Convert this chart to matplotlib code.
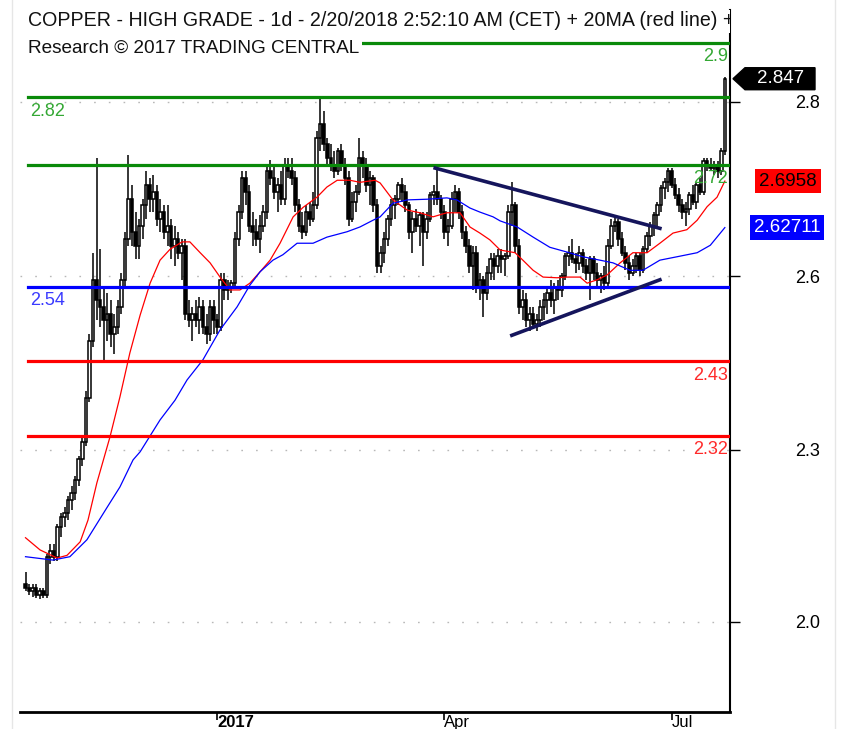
import numpy as np
import matplotlib
matplotlib.use('Agg')
import matplotlib.pyplot as plt
from matplotlib.patches import Polygon
from matplotlib.lines import Line2D
from matplotlib.transforms import blended_transform_factory

plt.rcParams['font.family'] = ['Liberation Sans', 'DejaVu Sans']

# Daily candles, one per trading day
opens = [2.100, 2.095, 2.090, 2.095, 2.085, 2.090, 2.085, 2.140, 2.150, 2.140,
         2.185, 2.200, 2.205, 2.225, 2.235, 2.255, 2.285, 2.310, 2.375, 2.460,
         2.550, 2.520, 2.510, 2.490, 2.500, 2.470, 2.480, 2.510, 2.550, 2.610,
         2.670, 2.620, 2.600, 2.630, 2.660, 2.690, 2.670, 2.680, 2.640, 2.650,
         2.620, 2.630, 2.600, 2.610, 2.590, 2.600, 2.500, 2.490, 2.500, 2.490,
         2.510, 2.480, 2.470, 2.510, 2.490, 2.480, 2.550, 2.535, 2.540, 2.545,
         2.610, 2.650, 2.700, 2.680, 2.630, 2.620, 2.610, 2.630, 2.650, 2.710,
         2.700, 2.680, 2.690, 2.670, 2.720, 2.710, 2.700, 2.660, 2.630, 2.620,
         2.650, 2.640, 2.660, 2.760, 2.780, 2.750, 2.730, 2.720, 2.710, 2.740,
         2.720, 2.700, 2.640, 2.665, 2.680, 2.730, 2.720, 2.690, 2.700, 2.660,
         2.570, 2.590, 2.610, 2.640, 2.660, 2.670, 2.690, 2.680, 2.660, 2.620,
         2.640, 2.630, 2.645, 2.620, 2.640, 2.675, 2.680, 2.670, 2.650, 2.620,
         2.630, 2.670, 2.680, 2.650, 2.620, 2.600, 2.570, 2.590, 2.540, 2.550,
         2.530, 2.560, 2.580, 2.570, 2.585, 2.580, 2.585, 2.650, 2.660, 2.600,
         2.510, 2.520, 2.490, 2.500, 2.485, 2.490, 2.510, 2.520, 2.530, 2.520,
         2.540, 2.535, 2.555, 2.585, 2.590, 2.580, 2.575, 2.590, 2.570, 2.560,
         2.580, 2.560, 2.550, 2.555, 2.545, 2.600, 2.630, 2.635, 2.610, 2.590,
         2.575, 2.560, 2.570, 2.585, 2.565, 2.595, 2.615, 2.630, 2.645, 2.660,
         2.685, 2.695, 2.710, 2.690, 2.675, 2.660, 2.650, 2.655, 2.675, 2.665,
         2.690, 2.680, 2.725, 2.720, 2.715, 2.720, 2.710, 2.740]
highs = [2.118, 2.100, 2.100, 2.100, 2.095, 2.095, 2.145, 2.160, 2.160, 2.190,
         2.205, 2.215, 2.230, 2.245, 2.260, 2.290, 2.320, 2.385, 2.470, 2.590,
         2.730, 2.595, 2.540, 2.530, 2.520, 2.500, 2.520, 2.560, 2.620, 2.735,
         2.690, 2.650, 2.640, 2.670, 2.710, 2.700, 2.705, 2.690, 2.670, 2.660,
         2.660, 2.640, 2.630, 2.620, 2.610, 2.610, 2.520, 2.510, 2.520, 2.525,
         2.520, 2.500, 2.520, 2.520, 2.500, 2.560, 2.560, 2.550, 2.550, 2.620,
         2.660, 2.710, 2.710, 2.690, 2.650, 2.640, 2.645, 2.660, 2.720, 2.727,
         2.720, 2.700, 2.710, 2.730, 2.730, 2.730, 2.710, 2.670, 2.650, 2.660,
         2.665, 2.680, 2.770, 2.820, 2.800, 2.760, 2.750, 2.740, 2.745, 2.750,
         2.730, 2.710, 2.680, 2.690, 2.760, 2.740, 2.730, 2.710, 2.705, 2.670,
         2.600, 2.620, 2.645, 2.670, 2.675, 2.695, 2.700, 2.690, 2.665, 2.650,
         2.655, 2.650, 2.650, 2.650, 2.680, 2.690, 2.715, 2.675, 2.660, 2.640,
         2.680, 2.690, 2.685, 2.660, 2.630, 2.610, 2.600, 2.600, 2.560, 2.555,
         2.570, 2.590, 2.590, 2.595, 2.595, 2.590, 2.660, 2.695, 2.665, 2.610,
         2.535, 2.530, 2.510, 2.510, 2.500, 2.520, 2.530, 2.540, 2.550, 2.545,
         2.550, 2.560, 2.590, 2.600, 2.610, 2.590, 2.600, 2.595, 2.580, 2.585,
         2.585, 2.575, 2.560, 2.570, 2.610, 2.640, 2.645, 2.640, 2.620, 2.600,
         2.585, 2.580, 2.590, 2.590, 2.600, 2.620, 2.635, 2.650, 2.665, 2.690,
         2.700, 2.715, 2.715, 2.700, 2.685, 2.670, 2.665, 2.680, 2.690, 2.695,
         2.700, 2.730, 2.730, 2.730, 2.725, 2.725, 2.745, 2.850]
lows = [2.090, 2.085, 2.082, 2.080, 2.078, 2.080, 2.080, 2.130, 2.135, 2.135,
        2.170, 2.185, 2.195, 2.210, 2.225, 2.245, 2.275, 2.305, 2.370, 2.450,
        2.490, 2.480, 2.430, 2.460, 2.450, 2.440, 2.470, 2.500, 2.540, 2.600,
        2.600, 2.580, 2.580, 2.610, 2.640, 2.650, 2.650, 2.630, 2.620, 2.610,
        2.600, 2.580, 2.570, 2.580, 2.550, 2.490, 2.480, 2.460, 2.480, 2.470,
        2.470, 2.455, 2.460, 2.470, 2.470, 2.475, 2.520, 2.520, 2.530, 2.540,
        2.600, 2.640, 2.660, 2.620, 2.600, 2.600, 2.590, 2.620, 2.640, 2.690,
        2.670, 2.650, 2.660, 2.660, 2.700, 2.690, 2.650, 2.620, 2.610, 2.615,
        2.630, 2.635, 2.655, 2.740, 2.740, 2.720, 2.710, 2.700, 2.705, 2.710,
        2.690, 2.630, 2.635, 2.650, 2.675, 2.700, 2.680, 2.660, 2.650, 2.560,
        2.560, 2.575, 2.600, 2.630, 2.640, 2.660, 2.665, 2.650, 2.610, 2.590,
        2.620, 2.600, 2.570, 2.610, 2.635, 2.660, 2.660, 2.640, 2.610, 2.600,
        2.625, 2.650, 2.640, 2.610, 2.590, 2.560, 2.535, 2.530, 2.520, 2.495,
        2.520, 2.550, 2.550, 2.560, 2.560, 2.555, 2.580, 2.630, 2.590, 2.500,
        2.490, 2.480, 2.475, 2.480, 2.475, 2.480, 2.490, 2.500, 2.510, 2.500,
        2.520, 2.525, 2.550, 2.570, 2.575, 2.560, 2.565, 2.560, 2.550, 2.520,
        2.550, 2.540, 2.530, 2.535, 2.540, 2.595, 2.620, 2.600, 2.585, 2.565,
        2.550, 2.555, 2.560, 2.555, 2.560, 2.590, 2.600, 2.615, 2.630, 2.650,
        2.670, 2.680, 2.685, 2.670, 2.650, 2.640, 2.630, 2.645, 2.660, 2.655,
        2.675, 2.675, 2.710, 2.710, 2.705, 2.700, 2.705, 2.735]
closes = [2.095, 2.090, 2.095, 2.085, 2.090, 2.085, 2.140, 2.150, 2.140, 2.185,
          2.200, 2.205, 2.225, 2.235, 2.255, 2.285, 2.310, 2.375, 2.460, 2.550,
          2.520, 2.510, 2.490, 2.500, 2.470, 2.480, 2.510, 2.550, 2.610, 2.670,
          2.620, 2.600, 2.630, 2.660, 2.690, 2.670, 2.680, 2.640, 2.650, 2.620,
          2.630, 2.600, 2.610, 2.590, 2.600, 2.500, 2.490, 2.500, 2.490, 2.510,
          2.480, 2.470, 2.510, 2.490, 2.480, 2.550, 2.535, 2.540, 2.545, 2.610,
          2.650, 2.700, 2.680, 2.630, 2.620, 2.610, 2.630, 2.650, 2.710, 2.700,
          2.680, 2.690, 2.670, 2.720, 2.710, 2.700, 2.660, 2.630, 2.620, 2.650,
          2.640, 2.660, 2.760, 2.780, 2.750, 2.730, 2.720, 2.710, 2.740, 2.720,
          2.700, 2.640, 2.665, 2.680, 2.730, 2.720, 2.690, 2.700, 2.660, 2.570,
          2.590, 2.610, 2.640, 2.660, 2.670, 2.690, 2.680, 2.660, 2.620, 2.640,
          2.630, 2.645, 2.620, 2.640, 2.675, 2.680, 2.670, 2.650, 2.620, 2.630,
          2.670, 2.680, 2.650, 2.620, 2.600, 2.570, 2.590, 2.540, 2.550, 2.530,
          2.560, 2.580, 2.570, 2.585, 2.580, 2.585, 2.650, 2.660, 2.600, 2.510,
          2.520, 2.490, 2.500, 2.485, 2.490, 2.510, 2.520, 2.530, 2.520, 2.540,
          2.535, 2.555, 2.585, 2.590, 2.580, 2.575, 2.590, 2.570, 2.560, 2.580,
          2.560, 2.550, 2.555, 2.545, 2.600, 2.630, 2.635, 2.610, 2.590, 2.575,
          2.560, 2.570, 2.585, 2.565, 2.595, 2.615, 2.630, 2.645, 2.660, 2.685,
          2.695, 2.710, 2.690, 2.675, 2.660, 2.650, 2.655, 2.675, 2.665, 2.690,
          2.680, 2.725, 2.720, 2.715, 2.720, 2.710, 2.740, 2.847]

# moving averages as drawn on the chart (day index, value)
ma20_days = [0, 4.1, 8.9, 11.7, 15.4, 17.6, 20.1, 23.8, 26.6, 29.4, 32.3, 35.1, 37.9,
             40.7, 44.1, 46.3, 49.2, 52, 54.8, 57.6, 60.4, 63.2, 66.1, 68.9, 71.7,
             75.4, 78.2, 82.1, 84.9, 87.8, 91.4, 94.2, 98.5, 99.9, 103.5, 107.5,
             111.1, 114.8, 118.7, 122.4, 125.2, 128, 130.8, 133.7, 137.9, 140.1,
             143, 145.8, 149.7, 152.5, 156.2, 158.2, 161, 163.8, 167.5, 171.1,
             175.1, 178.7, 182.4, 186.3, 189.2, 192, 194.8, 197]
ma20_vals = [2.169, 2.151, 2.139, 2.143, 2.163, 2.195, 2.25, 2.318, 2.377, 2.442,
             2.498, 2.545, 2.579, 2.595, 2.606, 2.606, 2.59, 2.575, 2.554, 2.535,
             2.535, 2.545, 2.562, 2.579, 2.604, 2.643, 2.657, 2.672, 2.687, 2.697,
             2.697, 2.694, 2.697, 2.693, 2.668, 2.653, 2.649, 2.643, 2.649, 2.649,
             2.628, 2.619, 2.609, 2.594, 2.590, 2.579, 2.564, 2.554, 2.553, 2.554,
             2.554, 2.545, 2.55, 2.557, 2.575, 2.59, 2.59, 2.604, 2.619, 2.624,
             2.638, 2.658, 2.672, 2.6958]
ma50_days = [0, 7.7, 12.5, 17.3, 23, 26.6, 30.3, 32.3, 37.9, 42.1, 45.5, 50, 54.8,
             59.6, 63.2, 66.1, 69.7, 72.5, 76.5, 81, 84.9, 90.6, 94.2, 97.9, 99.9,
             103.5, 107.5, 113.1, 118.7, 121.5, 125.2, 128, 131.7, 133.7, 138.5,
             143, 147.7, 152.5, 157, 161.8, 165.5, 170.3, 173.9, 178.7, 183.5,
             189.2, 192.9, 197]
ma50_vals = [2.141, 2.136, 2.141, 2.166, 2.214, 2.244, 2.284, 2.296, 2.343, 2.372,
             2.402, 2.432, 2.476, 2.51, 2.542, 2.562, 2.579, 2.587, 2.604, 2.604,
             2.613, 2.621, 2.628, 2.638, 2.643, 2.663, 2.668, 2.669, 2.671, 2.668,
             2.656, 2.65, 2.643, 2.637, 2.628, 2.613, 2.598, 2.591, 2.584, 2.579,
             2.575, 2.564, 2.564, 2.579, 2.584, 2.59, 2.601, 2.62711]

# horizontal support / resistance levels
levels = [2.9, 2.82, 2.72, 2.54, 2.43, 2.32]
level_colors = ['#0a8a0a', '#0a8a0a', '#0a8a0a', '#0000ff', '#ff0000', '#ff0000']
label_colors = ['#34a834', '#34a834', '#34a834', '#3a3aff', '#ff2a2a', '#ff2a2a']
label_sides = ['right', 'left', 'right', 'left', 'right', 'right']

# triangle trend lines
tri_upper_days = [115.4, 178.7]
tri_upper_vals = [2.715, 2.626]
tri_lower_days = [137.0, 178.7]
tri_lower_vals = [2.468, 2.550]

# axes ticks
ytick_vals = [2.045, 2.299, 2.555, 2.813]
ytick_labels = ['2.0', '2.3', '2.6', '2.8']
xtick_days = [54, 118, 182]
xtick_labels = ['2017', 'Apr', 'Jul']

last_price = 2.847
ma20_last = 2.6958
ma50_last = 2.62711

# header as far as it is visible in the chart
title1 = 'COPPER - HIGH GRADE - 1d - 2/20/2018 2:52:10 AM (CET) + 20MA (red line) +'
title2 = 'Research \u00a9 2017 TRADING CENTRAL'

W, H = 842, 729
fig = plt.figure(figsize=(W / 100, H / 100), dpi=100)
ax = fig.add_axes([20 / W, 17 / H, 710 / W, 702 / H])
ax.set_xlim(-1.55, 198.45)
ax.set_ylim(1.9116, 2.9485)

# candles
o = np.array(opens)
h = np.array(highs)
l = np.array(lows)
c = np.array(closes)
idx = np.arange(len(c))
up = c >= o
ax.vlines(idx, l, h, color='black', lw=1.1, zorder=2)
body_bot = np.minimum(o, c)
body_h = np.maximum(np.abs(c - o), 0.003)
ax.bar(idx[up], body_h[up], bottom=body_bot[up], width=0.72, color='white',
       edgecolor='black', lw=1.1, zorder=3)
ax.bar(idx[~up], body_h[~up], bottom=body_bot[~up], width=0.72, color='black',
       edgecolor='black', lw=1.1, zorder=3)

# moving averages
ax.plot(ma20_days, ma20_vals, color='#ff0000', lw=0.9, zorder=4)
ax.plot(ma50_days, ma50_vals, color='#0000ff', lw=0.9, zorder=4)

# level lines + labels
tr = blended_transform_factory(ax.transAxes, ax.transData)
for lev, col, lcol, side in zip(levels, level_colors, label_colors, label_sides):
    ax.axhline(lev, xmin=8 / 710, xmax=1, color=col, lw=2.3, zorder=5)
    if side == 'left':
        ax.annotate(f'{lev:g}', xy=(10 / 710, lev), xycoords=tr, xytext=(0, -4),
                    textcoords='offset points', ha='left', va='top',
                    color=lcol, fontsize=13, zorder=7)
    else:
        ax.annotate(f'{lev:g}', xy=(1, lev), xycoords=tr, xytext=(-1.5, -4),
                    textcoords='offset points', ha='right', va='top',
                    color=lcol, fontsize=13, zorder=7)

# triangle
ax.plot(tri_upper_days, tri_upper_vals, color='#15155c', lw=2.6, zorder=6)
ax.plot(tri_lower_days, tri_lower_vals, color='#15155c', lw=2.6, zorder=6)

# title text with white background
ax.text(8 / 710, 0.985, title1, transform=ax.transAxes, ha='left', va='center',
        fontsize=14.1, color='#111111', clip_on=True, zorder=8,
        bbox=dict(boxstyle='square,pad=0.15', fc='white', ec='none'))
ax.text(8 / 710, 0.946, title2, transform=ax.transAxes, ha='left', va='center',
        fontsize=13.7, color='#111111', clip_on=True, zorder=8,
        bbox=dict(boxstyle='square,pad=0.15', fc='white', ec='none'))

# grid and axes
ax.set_yticks(ytick_vals)
ax.set_yticklabels(ytick_labels)
ax.yaxis.tick_right()
ax.tick_params(axis='y', length=7, width=1, direction='out', pad=58, labelsize=13,
               colors='black')
for lab in ax.get_yticklabels():
    lab.set_horizontalalignment('right')
ax.grid(axis='y', color='#b8b8b8', lw=1.0, linestyle=(0, (1.2, 9.4)))
ax.set_xticks(xtick_days)
ax.set_xticklabels(xtick_labels)
ax.tick_params(axis='x', length=6, width=1.2, direction='out', pad=-3.5, labelsize=12)
for lab in ax.get_xticklabels():
    lab.set_horizontalalignment('left')
ax.get_xticklabels()[0].set_fontweight('bold')
ax.spines['top'].set_visible(False)
ax.spines['left'].set_visible(False)
ax.spines['right'].set_linewidth(1.5)
ax.spines['bottom'].set_linewidth(2)

# faint outer frame
fig.add_artist(Line2D([12 / W, 12 / W], [0, 1], color='#e6e6e6', lw=1))
fig.add_artist(Line2D([835 / W, 835 / W], [0, 1], color='#e6e6e6', lw=1))

# price tags on the right
to_fig = fig.transFigure.inverted()
xr, yp = ax.transData.transform((198.45, last_price))
tag = [(xr + 3, yp), (xr + 15, yp + 11), (xr + 85, yp + 11), (xr + 85, yp - 11),
       (xr + 15, yp - 11)]
fig.add_artist(Polygon(to_fig.transform(tag), closed=True, fc='black', ec='black',
                       transform=fig.transFigure))
fx, fy = to_fig.transform((xr + 51, yp))
fig.text(fx, fy, f'{last_price:.3f}', color='white', fontsize=13.5, ha='center',
         va='center')

_, y20 = ax.transData.transform((0, ma20_last))
fx, fy = to_fig.transform((788, y20))
fig.text(fx, fy, f'{ma20_last:.4f}', color='black', fontsize=13.5, ha='center',
         va='center', bbox=dict(boxstyle='square,pad=0.2', fc='#ff0000', ec='none'))
_, y50 = ax.transData.transform((0, ma50_last))
fx, fy = to_fig.transform((787, y50))
fig.text(fx, fy, f'{ma50_last:.5f}', color='white', fontsize=13.5, ha='center',
         va='center', bbox=dict(boxstyle='square,pad=0.2', fc='#0000ff', ec='none'))

fig.savefig('out.png', dpi=100)
